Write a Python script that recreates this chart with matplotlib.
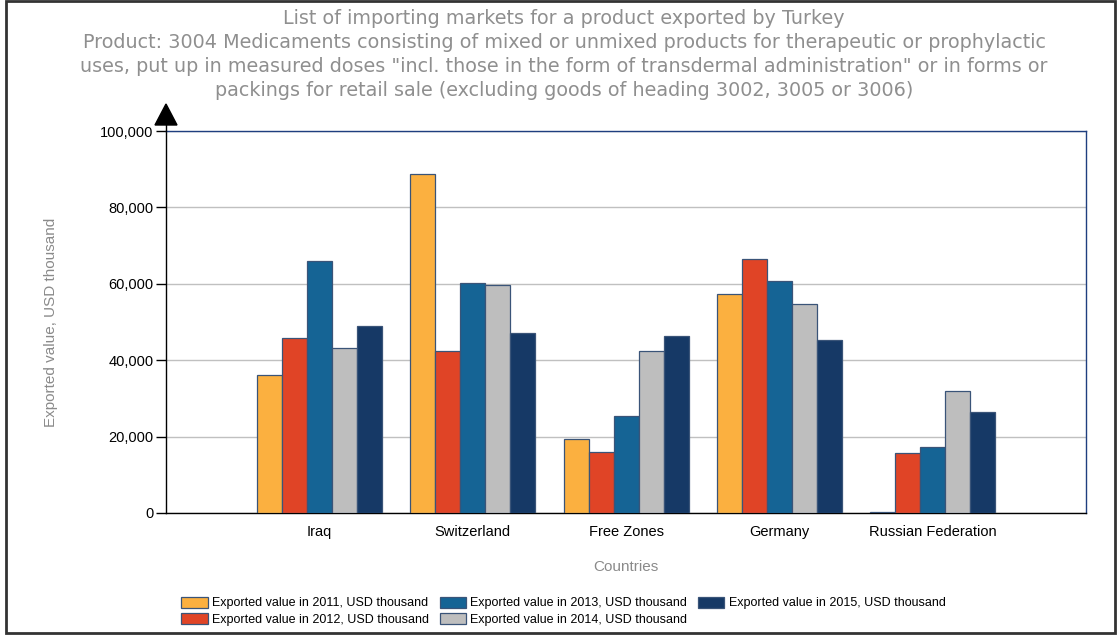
import numpy as np
import matplotlib
matplotlib.use('Agg')
import matplotlib.pyplot as plt
from matplotlib.patches import Rectangle, Polygon
from matplotlib.ticker import FuncFormatter

# ----------------------------------
# Data
# ----------------------------------

countries = ['Iraq', 'Switzerland', 'Free Zones', 'Germany', 'Russian Federation']
years = ['2011', '2012', '2013', '2014', '2015']

val_2011 = [36000, 88700, 19400, 57300, 300]
val_2012 = [45800, 42400, 16000, 66500, 15700]
val_2013 = [66000, 60200, 25400, 60700, 17300]
val_2014 = [43200, 59700, 42400, 54700, 31900]
val_2015 = [49000, 47100, 46300, 45300, 26400]

series = [val_2011, val_2012, val_2013, val_2014, val_2015]
colors = ['#FBB040', '#E04426', '#156495', '#BEBEBE', '#163966']

title = ('List of importing markets for a product exported by Turkey\n'
         'Product: 3004 Medicaments consisting of mixed or unmixed products for therapeutic or prophylactic\n'
         'uses, put up in measured doses "incl. those in the form of transdermal administration" or in forms or\n'
         'packings for retail sale (excluding goods of heading 3002, 3005 or 3006)')

# ----------------------------------
# Plot
# ----------------------------------

plt.rcParams['font.family'] = ['Liberation Sans', 'DejaVu Sans']

fig = plt.figure(figsize=(11.18, 6.36), dpi=100)
ax = fig.add_axes([0.1485, 0.1934, 0.8229, 0.6006])

x = np.arange(len(countries))
width = 0.163
for i, (vals, col) in enumerate(zip(series, colors)):
    ax.bar(x + (i - 2) * width, vals, width, color=col, edgecolor='#3a5478', linewidth=0.9,
           label=f'Exported value in {years[i]}, USD thousand', zorder=3)

ax.set_xlim(-1, 5)
ax.set_ylim(0, 100000)
ax.set_yticks(np.arange(0, 100001, 20000))
ax.yaxis.set_major_formatter(FuncFormatter(lambda v, p: f'{int(v):,}'))
ax.set_xticks(x)
ax.set_xticklabels(countries)
ax.tick_params(axis='x', length=0, labelsize=10.5, pad=9)
ax.tick_params(axis='y', length=7.5, width=1, labelsize=10.5, pad=1.5)
ax.grid(axis='y', color='#c0c0c0', linewidth=1, zorder=0)

# Spines
ax.spines['left'].set_color('black')
ax.spines['bottom'].set_color('black')
ax.spines['top'].set_color('#1f3f7f')
ax.spines['right'].set_color('#1f3f7f')
for s in ax.spines.values():
    s.set_linewidth(1)

# Annotate ----------------------------------------
fig.text(0.5045, 0.986, title, ha='center', va='top', fontsize=13.8, color='#8f8f8f',
         family='DejaVu Sans', linespacing=1.335)
ax.set_xlabel('Countries', fontsize=11, color='#8a8a8a', labelpad=15)
ax.set_ylabel('Exported value, USD thousand', fontsize=11, color='#8a8a8a', labelpad=30)

leg = fig.legend(loc='center', bbox_to_anchor=(0.504, 0.039), ncol=3, frameon=False,
                 fontsize=9, handlelength=2.1, handleheight=1.0, handletextpad=0.35,
                 columnspacing=0.85, labelspacing=0.28)

# Arrow on top of the y axis
fig.patches.append(Polygon([(155 / 1118, 1 - 125 / 636), (177 / 1118, 1 - 125 / 636),
                            (166 / 1118, 1 - 104 / 636)], closed=True, color='black',
                           transform=fig.transFigure, figure=fig))
fig.lines.append(plt.Line2D([166 / 1118, 166 / 1118], [1 - 131 / 636, 1 - 124 / 636],
                            color='black', lw=1, transform=fig.transFigure, figure=fig))

# Frame around the whole picture
fig.patches.append(Rectangle((6 / 1118, 3 / 636), 1109 / 1118, 632 / 636, fill=False,
                             edgecolor='#333333', linewidth=2, transform=fig.transFigure, figure=fig))

fig.savefig('out.png', dpi=100)
